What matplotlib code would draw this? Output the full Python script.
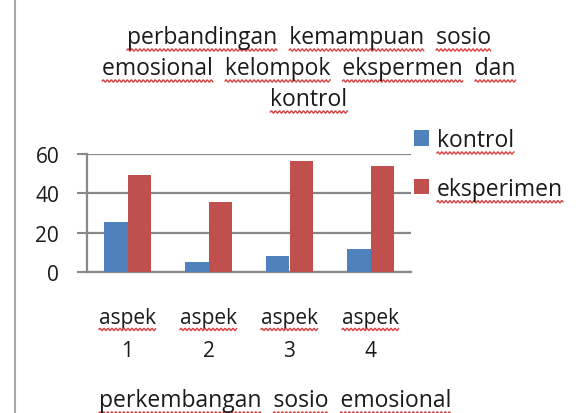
import re
import numpy as np
import matplotlib.pyplot as plt
from matplotlib.lines import Line2D
from matplotlib.transforms import IdentityTransform

# data
aspek = ['aspek\n1', 'aspek\n2', 'aspek\n3', 'aspek\n4']
kontrol = [25.5, 5, 8.3, 11.7]
eksperimen = [49.4, 35.5, 56.6, 54]
judul = ['perbandingan  kemampuan  sosio',
         'emosional  kelompok  ekspermen  dan',
         'kontrol']
xlabel = 'perkembangan  sosio  emosional'

plt.rcParams['font.family'] = ['Open Sans', 'DejaVu Sans']
plt.rcParams['font.weight'] = 500
plt.rcParams['text.color'] = '#1a1a1a'

W, H = 579, 414
fig = plt.figure(figsize=(W / 100, H / 100), dpi=100)
ax = fig.add_axes([87 / W, 1 - 273 / H, 324 / W, 118 / H])

x = np.arange(len(aspek))
w = 0.285
ax.bar(x - w / 2, kontrol, w, color='#4F81BD', label='kontrol', zorder=3)
ax.bar(x + w / 2, eksperimen, w, color='#C0504D', label='eksperimen', zorder=3)

ax.set_xlim(-0.5, 3.5)
ax.set_ylim(0, 60)
ax.set_yticks([0, 20, 40, 60])
ax.set_xticks(x)
ax.set_xticklabels(aspek, fontsize=15, linespacing=1.7)
ax.tick_params(axis='y', labelsize=15, length=7, width=1.5, color='#888888', pad=13,
               labelcolor='#1a1a1a')
ax.tick_params(axis='x', length=0, pad=25.5, labelcolor='#1a1a1a')
ax.grid(axis='y', color='#888888', linewidth=1.6, zorder=1)
for s in ['top', 'right']:
    ax.spines[s].set_visible(False)
for s in ['left', 'bottom']:
    ax.spines[s].set_color('#888888')
    ax.spines[s].set_linewidth(1.6)

# judul, satu baris per teks
baris = []
for teks, yb in zip(judul, [44, 75, 106]):
    baris.append(fig.text(309 / W, 1 - yb / H, teks, ha='center', va='baseline', fontsize=16.5))
xl = fig.text(275 / W, 1 - 407 / H, xlabel, ha='center', va='baseline', fontsize=16.5)

leg = fig.legend(loc='upper left', bbox_to_anchor=(414 / W, 1 - 129 / H), frameon=False,
                 fontsize=16.5, handlelength=0.65, handleheight=0.65, handletextpad=0.35,
                 labelspacing=1.08, borderpad=0, borderaxespad=0)

fig.add_artist(Line2D([15 / W, 15 / W], [0, 1], color='#a8a8a8', linewidth=1.5))

# garis merah bergelombang (tanda ejaan) di bawah kata
fig.canvas.draw()
r = fig.canvas.get_renderer()


def lebar(s, prop):
    return r.get_text_width_height_descent(s, prop, ismath=False)[0]


def gelombang(x0, x1, y):
    xs = np.arange(x0, x1, 0.5)
    ys = y + 1.1 * np.sin((xs - x0) * 2 * np.pi / 4.0)
    fig.add_artist(Line2D(xs, ys, transform=IdentityTransform(), color='#d94343', linewidth=1.0))


def garis_bawah(t):
    s = t.get_text()
    prop = t.get_fontproperties()
    bb = t.get_window_extent(r)
    for m in re.finditer(r'\S+', s):
        akhir = bb.x0 + lebar(s[:m.end()], prop)
        gelombang(akhir - lebar(m.group(), prop), akhir, bb.y0 - 1)


for t in baris + [xl] + leg.get_texts():
    garis_bawah(t)

for t in ax.get_xticklabels():
    kata = t.get_text().split('\n')[0]
    prop = t.get_fontproperties()
    bb = t.get_window_extent(r)
    lw = lebar(kata, prop)
    h = r.get_text_width_height_descent('lp', prop, ismath=False)[1]
    cx = (bb.x0 + bb.x1) / 2
    gelombang(cx - lw / 2, cx + lw / 2, bb.y1 - h - 1)

fig.savefig('out.png', dpi=100)
